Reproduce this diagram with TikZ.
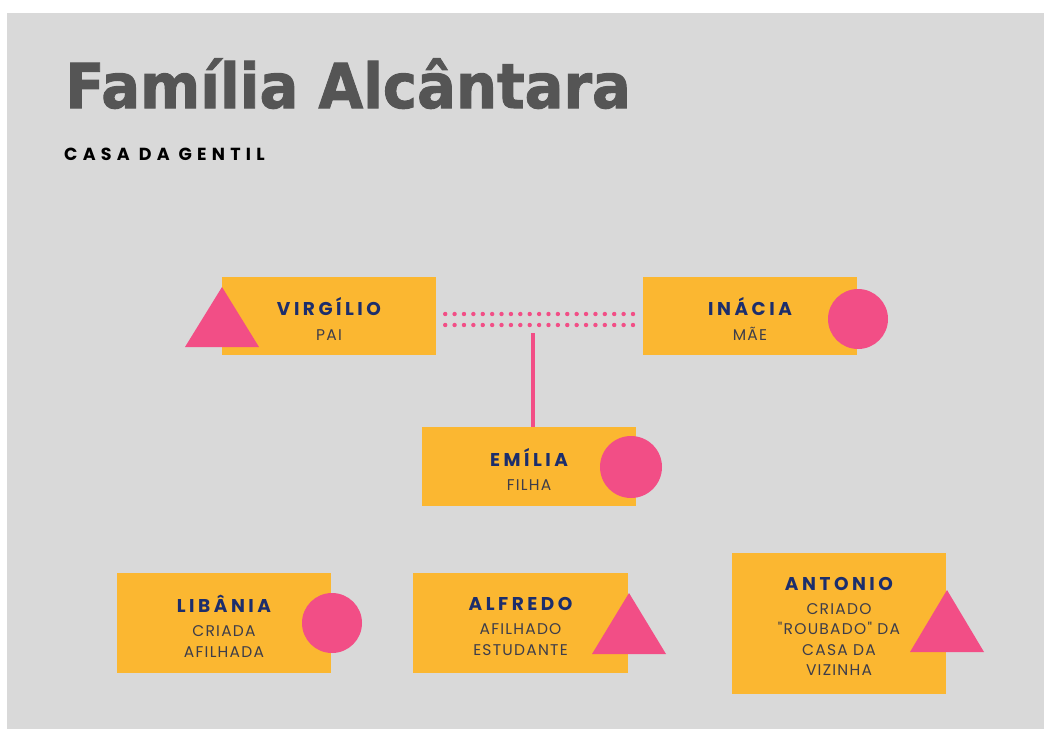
\documentclass[tikz,border=0pt]{standalone}
\usepackage{fontspec}
\newfontfamily\titlefont{DejaVu Sans}[BoldFeatures={FakeBold=1.6}]
\newfontfamily\namefont{Poppins}[LetterSpace=19]
\newfontfamily\subfont{Poppins}[LetterSpace=8]
\newfontfamily\headfont{Poppins}[LetterSpace=30]
\definecolor{bg}{HTML}{D9D9D9}
\definecolor{boxc}{HTML}{FBB731}
\definecolor{pk}{HTML}{F24E86}
\definecolor{navy}{HTML}{1C2E6C}
\definecolor{subc}{HTML}{3D3D4A}
\definecolor{ttl}{HTML}{555555}
\newcommand\nm[1]{{\namefont\bfseries\fontsize{18.5}{20}\selectfont\color{navy}#1}}
\tikzset{
  card/.style={fill=boxc, inner sep=0pt, minimum width=214pt},
  cardtext/.style={inner sep=0pt, align=center,
    font=\subfont\fontsize{15.5}{20.5}\selectfont, text=subc},
  dotrow/.style={pk, line width=4.4pt, line cap=round, dash pattern=on 0pt off 9.39pt},
  stem/.style={pk, line width=3.6pt},
  shapefill/.style={fill=pk}
}
\begin{document}
\begin{tikzpicture}[x=1pt,y=-1pt]
\useasboundingbox (0,0) rectangle (1044,729);
\fill[white] (0,0) rectangle (1044,729);
\fill[bg] (7,13) rectangle (1044,729);
% title
\node[anchor=base west, inner sep=0pt, text=ttl, font=\titlefont\bfseries\fontsize{62}{70}\selectfont] (title) at (65,108) {\scalebox{0.93}[1]{Família Alcântara}};
\node[anchor=base west, inner sep=0pt, font=\headfont\bfseries\fontsize{17.5}{20}\selectfont] (sub) at (64,160) {CASA DA GENTIL};
% cards
\node[card, minimum height=78pt] (vir) at (329,316) {};
\node[card, minimum height=78pt] (ina) at (750,316) {};
\node[card, minimum height=79pt] (emi) at (529,466.5) {};
\node[card, minimum height=100pt] (lib) at (224,623) {};
\node[card, minimum height=100pt, minimum width=215pt] (alf) at (520.5,623) {};
\node[card, minimum height=141pt] (ant) at (839,623.5) {};
\node[cardtext] (virt) at ([yshift=-3pt]vir.center) {\nm{VIRGÍLIO}\\[4pt]PAI};
\node[cardtext] (inat) at ([yshift=-3pt]ina.center) {\nm{INÁCIA}\\[4pt]MÃE};
\node[cardtext] (emit) at ([yshift=-3pt]emi.center) {\nm{EMÍLIA}\\[4pt]FILHA};
\node[cardtext] (libt) at ([yshift=-3pt]lib.center) {\nm{LIBÂNIA}\\[4pt]CRIADA\\AFILHADA};
\node[cardtext] (alft) at ([yshift=-3pt]alf.center) {\nm{ALFREDO}\\[4pt]AFILHADO\\ESTUDANTE};
\node[cardtext] (antt) at ([yshift=-3pt]ant.center) {\nm{ANTONIO}\\[3pt]CRIADO\\"ROUBADO" DA\\CASA DA\\VIZINHA};
% decorative shapes
\fill[shapefill] (185,347) -- (259,347) -- (222,287) -- cycle;
\fill[shapefill] (858,319) circle (30);
\fill[shapefill] (631,467) circle (31);
\fill[shapefill] (332,623) circle (30);
\fill[shapefill] (592,654) -- (666,654) -- (629,593) -- cycle;
\fill[shapefill] (910,652) -- (984,652) -- (947,590) -- cycle;
% connectors
\draw[dotrow, shorten <=9pt, shorten >=6pt] ([yshift=2pt]vir.east) -- ([yshift=2pt]ina.west);
\draw[dotrow, shorten <=9pt, shorten >=6pt] ([yshift=-9pt]vir.east) -- ([yshift=-9pt]ina.west);
\coordinate (mid) at (533,333);
\draw[stem] (mid) -- (mid |- emi.north);
\end{tikzpicture}
\end{document}
